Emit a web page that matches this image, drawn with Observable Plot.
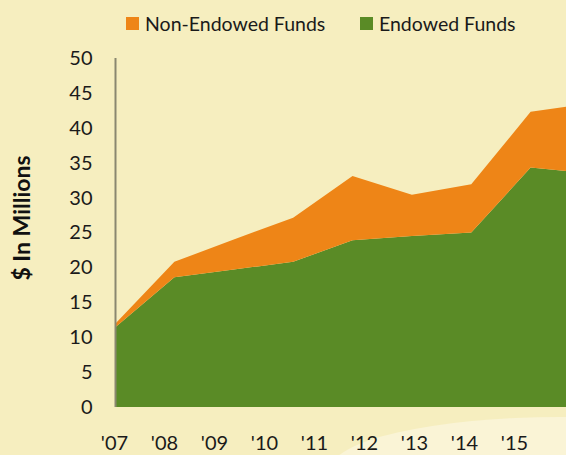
<!DOCTYPE html>
<html>
<head>
<meta charset="utf-8">
<script src="https://cdn.jsdelivr.net/npm/d3@7"></script>
<script src="https://cdn.jsdelivr.net/npm/@observablehq/plot@0.6"></script>
<style>
  html, body { margin: 0; padding: 0; overflow: hidden; background: #f6eebf; }
  #wrap { position: relative; width: 566px; height: 455px; overflow: hidden; background: #f6eebf; font-family: Lato, "Open Sans", sans-serif; }
  #glow { position: absolute; left: 330px; top: 417px; width: 460px; height: 106px; border-radius: 50%; background: #faf4d6; }
  .layer { position: absolute; left: 0; }
  .leg { position: absolute; top: 12px; display: flex; align-items: center; font-size: 19.5px; color: #1a1a1a; white-space: nowrap; }
  .sw { width: 13px; height: 13px; margin-right: 6px; }
</style>
</head>
<body>
<div id="wrap">
  <div id="glow"></div>
</div>
<script>
const years = [2007, 2008, 2009, 2010, 2011, 2012, 2013, 2014, 2015];
const yearLabels = ["'07", "'08", "'09", "'10", "'11", "'12", "'13", "'14", "'15"];
const endowed = [11.4, 18.6, 19.7, 20.8, 23.9, 24.5, 25.0, 34.3, 33.5];
const nonEndowed = [0.5, 2.2, 4.3, 6.3, 9.2, 5.9, 6.9, 8.0, 10.0];
const seriesNames = ["Non-Endowed Funds", "Endowed Funds"];
const seriesColors = ["#ee8517", "#5a8b26"];
const yTicks = [0, 5, 10, 15, 20, 25, 30, 35, 40, 45, 50];

const data = [];
years.forEach((yr, i) => {
  data.push({year: yr, series: "Endowed Funds", value: endowed[i]});
  data.push({year: yr, series: "Non-Endowed Funds", value: nonEndowed[i]});
});

const wrap = document.getElementById("wrap");
const font = "Lato, 'Open Sans', sans-serif";

const main = Plot.plot({
  width: 566,
  height: 455,
  marginTop: 58,
  marginBottom: 48,
  marginLeft: 115,
  marginRight: 0,
  style: {background: "transparent", fontFamily: font, fontSize: "20px", color: "#1a1a1a", overflow: "hidden"},
  x: {type: "linear", domain: [2007, 2015], range: [115, 590], axis: null},
  y: {domain: [0, 50], ticks: yTicks, tickSize: 0, tickPadding: 23, label: null, tickFormat: d => String(d)},
  color: {domain: seriesNames, range: seriesColors},
  marks: [
    Plot.areaY(data, {x: "year", y: "value", z: "series", fill: "series", order: ["Endowed Funds", "Non-Endowed Funds"], clip: true}),
    Plot.ruleX([2007], {y1: 0, y2: 50, stroke: "#8a8770", strokeWidth: 2}),
    Plot.text(["$ In Millions"], {frameAnchor: "left", textAnchor: "middle", dx: -93, dy: -15, rotate: -90, text: d => d, fontWeight: "bold", fontSize: 23, fill: "#111"})
  ]
});
main.classList.add("layer");
main.style.top = "0px";
wrap.appendChild(main);

const xAxis = Plot.plot({
  width: 566,
  height: 24,
  margin: 0,
  style: {background: "transparent", fontFamily: font, fontSize: "20px", color: "#1a1a1a"},
  x: {type: "point", padding: 0, domain: yearLabels, range: [112, 515], axis: null},
  marks: [
    Plot.text(yearLabels, {x: d => d, text: d => d, frameAnchor: "middle", fill: "#1a1a1a"})
  ]
});
xAxis.classList.add("layer");
xAxis.style.top = "431px";
wrap.appendChild(xAxis);

const lefts = [126, 360];
seriesNames.forEach((name, i) => {
  const item = document.createElement("div");
  item.className = "leg";
  item.style.left = lefts[i] + "px";
  const sw = document.createElement("div");
  sw.className = "sw";
  sw.style.background = seriesColors[i];
  const t = document.createElement("span");
  t.textContent = name;
  item.appendChild(sw);
  item.appendChild(t);
  wrap.appendChild(item);
});
</script>
</body>
</html>
